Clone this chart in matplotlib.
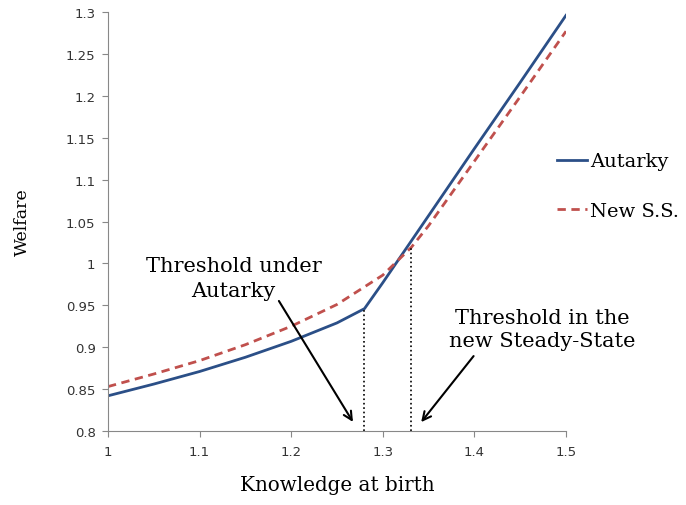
import numpy as np
import matplotlib
matplotlib.use('Agg')
import matplotlib.pyplot as plt

# Data
x_aut = [1.0, 1.05, 1.1, 1.15, 1.2, 1.25, 1.28, 1.3, 1.35, 1.4, 1.45, 1.5]
y_aut = [0.842, 0.856, 0.871, 0.888, 0.907, 0.929, 0.946, 0.977, 1.057, 1.137, 1.216, 1.296]
x_new = [1.0, 1.05, 1.1, 1.15, 1.2, 1.25, 1.3, 1.331, 1.35, 1.4, 1.45, 1.5]
y_new = [0.853, 0.868, 0.884, 0.903, 0.925, 0.951, 0.986, 1.019, 1.045, 1.122, 1.199, 1.277]

thr_aut = (1.28, 0.946)
thr_new = (1.331, 1.019)

xticks = [1, 1.1, 1.2, 1.3, 1.4, 1.5]
yticks = [0.8, 0.85, 0.9, 0.95, 1, 1.05, 1.1, 1.15, 1.2, 1.25, 1.3]

fig = plt.figure(figsize=(6.86, 5.06), dpi=100)
ax = fig.add_axes([108 / 686, 74 / 506, 458 / 686, 419 / 506])

ax.plot(x_aut, y_aut, color='#2b4f87', lw=2.0, label='Autarky')
ax.plot(x_new, y_new, color='#c0504d', lw=2.0, ls=(0, (3, 2)), label='New S.S.')

# dotted threshold lines
ax.plot([thr_aut[0], thr_aut[0]], [0.8, thr_aut[1]], color='black', lw=1.2, ls=':')
ax.plot([thr_new[0], thr_new[0]], [0.8, thr_new[1]], color='black', lw=1.2, ls=':')

ax.set_xlim(1, 1.5)
ax.set_ylim(0.8, 1.3)
ax.set_xticks(xticks)
ax.set_xticklabels([f'{t:g}' for t in xticks])
ax.set_yticks(yticks)
ax.set_yticklabels([f'{t:g}' for t in yticks])
ax.tick_params(axis='both', direction='out', length=4, color='#888888',
               labelsize=9.5, labelcolor='#333333')
ax.tick_params(axis='x', pad=6)
ax.tick_params(axis='y', pad=5)
for s in ['top', 'right']:
    ax.spines[s].set_visible(False)
for s in ['left', 'bottom']:
    ax.spines[s].set_color('#888888')

serif = 'DejaVu Serif'
ax.set_xlabel('Knowledge at birth', fontfamily=serif, fontsize=14.3, labelpad=12)
ax.set_ylabel('Welfare', fontfamily=serif, fontsize=12.5, labelpad=25)

# annotations
ax.text(1.137, 0.983, 'Threshold under\nAutarky', ha='center', va='center',
        fontfamily=serif, fontsize=15, linespacing=1.4)
ax.annotate('', xy=(1.269, 0.808), xytext=(1.185, 0.958),
            arrowprops=dict(arrowstyle='->', color='black', lw=1.5,
                            mutation_scale=15))
ax.text(1.474, 0.922, 'Threshold in the\nnew Steady-State', ha='center', va='center',
        fontfamily=serif, fontsize=15, linespacing=1.25)
ax.annotate('', xy=(1.340, 0.808), xytext=(1.401, 0.892),
            arrowprops=dict(arrowstyle='->', color='black', lw=1.5,
                            mutation_scale=15))

fig.legend(loc='center left', bbox_to_anchor=(557 / 686, 1 - 187 / 506),
           frameon=False, prop={'family': serif, 'size': 14},
           handlelength=1.55, handletextpad=0.15, labelspacing=1.6,
           borderpad=0, borderaxespad=0)

fig.savefig('out.png', dpi=100)
